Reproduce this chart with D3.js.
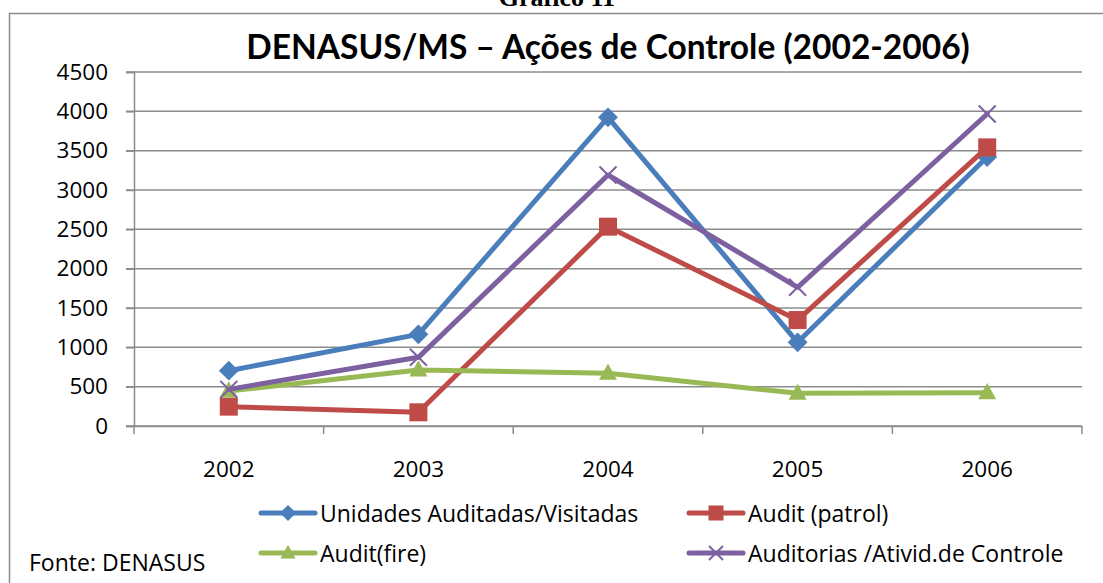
<!DOCTYPE html>
<html>
<head>
  <meta charset="utf-8">
  <script src="https://d3js.org/d3.v7.min.js"></script>
  <style>
    body { margin: 0; background: #fff; }
    svg { display: block; }
    text { font-family: "Open Sans", "Liberation Sans", sans-serif; fill: #000; }
  </style>
</head>
<body>
<script>
  "use strict";

  // chart data
  var years = ["2002", "2003", "2004", "2005", "2006"];
  var yTicks = [0, 500, 1000, 1500, 2000, 2500, 3000, 3500, 4000, 4500];

  var unidades   = [703, 1165, 3924, 1064, 3420];
  var auditPatrol = [246, 174, 2534, 1347, 3542];
  var auditFire  = [445, 712, 670, 415, 424];
  var auditorias = [466, 873, 3191, 1763, 3966];

  var series = [
    {name: "Unidades Auditadas/Visitadas", values: unidades, color: "#4A7EBB", marker: "diamond"},
    {name: "Audit (patrol)", values: auditPatrol, color: "#BE4B48", marker: "square"},
    {name: "Audit(fire)", values: auditFire, color: "#98B954", marker: "triangle"},
    {name: "Auditorias /Ativid.de Controle", values: auditorias, color: "#7D60A0", marker: "cross"}
  ];

  var W = 1103, H = 583;
  var svg = d3.select("body").append("svg")
    .attr("width", W)
    .attr("height", H);

  // outer frame
  svg.append("rect")
    .attr("x", 9.5).attr("y", 13.5)
    .attr("width", W + 20).attr("height", H + 20)
    .attr("fill", "none")
    .attr("stroke", "#8c8c8c")
    .attr("stroke-width", 1.5);

  // caption above the frame (cut at the top edge, as in the source scan)
  svg.append("text")
    .attr("x", 557).attr("y", 6)
    .attr("text-anchor", "middle")
    .style("font-family", "'Liberation Serif', serif")
    .style("font-weight", "bold")
    .style("font-size", "26px")
    .text("Gráfico 11");

  svg.append("text")
    .attr("x", 608).attr("y", 59)
    .attr("text-anchor", "middle")
    .style("font-family", "Lato, sans-serif")
    .style("font-weight", "bold")
    .style("font-size", "33.5px")
    .text("DENASUS/MS \u2013 Ações de Controle (2002-2006)");

  var pLeft = 134, pRight = 1082, pTop = 72, pBottom = 426;

  var x = d3.scaleBand().domain(years).range([pLeft, pRight]);
  var y = d3.scaleLinear().domain([0, 4500]).range([pBottom, pTop]);

  // gridlines
  svg.append("g").selectAll("line")
    .data(yTicks)
    .enter().append("line")
    .attr("x1", pLeft - 8).attr("x2", pRight)
    .attr("y1", function(d) { return y(d); })
    .attr("y2", function(d) { return y(d); })
    .attr("stroke", "#8c8c8c")
    .attr("stroke-width", 1.5);

  // y axis
  var yAxis = svg.append("g")
    .attr("transform", "translate(" + pLeft + ",0)")
    .call(d3.axisLeft(y).tickValues(yTicks).tickFormat(d3.format("d")).tickSize(8).tickPadding(18));
  yAxis.select(".domain").attr("stroke", "#8c8c8c").attr("stroke-width", 1.5);
  yAxis.selectAll(".tick line").attr("stroke", "#8c8c8c").attr("stroke-width", 1.5);
  yAxis.selectAll("text")
    .style("font-family", "'Open Sans', sans-serif")
    .style("font-size", "22.5px")
    .attr("fill", "#000");

  // x axis
  var xAxis = svg.append("g")
    .attr("transform", "translate(0," + pBottom + ")")
    .call(d3.axisBottom(x).tickSize(0).tickPadding(35));
  xAxis.select(".domain").attr("stroke", "#8c8c8c").attr("stroke-width", 1.5);
  xAxis.selectAll("text")
    .style("font-family", "'Open Sans', sans-serif")
    .style("font-size", "22.5px")
    .attr("fill", "#000");

  var bounds = [pLeft].concat(years.map(function(d) { return x(d) + x.bandwidth(); }));
  xAxis.selectAll(".sep")
    .data(bounds)
    .enter().append("line")
    .attr("x1", function(d) { return d; })
    .attr("x2", function(d) { return d; })
    .attr("y1", 0).attr("y2", 8)
    .attr("stroke", "#8c8c8c")
    .attr("stroke-width", 1.5);

  function drawMarker(g, type, color, cx, cy, s) {
    if (type == "diamond") {
      var r = s * 0.62;
      g.append("path")
        .attr("d", "M" + cx + "," + (cy - r) + "L" + (cx + r) + "," + cy + "L" + cx + "," + (cy + r) + "L" + (cx - r) + "," + cy + "Z")
        .attr("fill", color);
    } else if (type == "square") {
      g.append("rect")
        .attr("x", cx - s / 2).attr("y", cy - s / 2)
        .attr("width", s).attr("height", s)
        .attr("fill", color);
    } else if (type == "triangle") {
      var h = s * 0.9;
      g.append("path")
        .attr("d", "M" + cx + "," + (cy - h * 0.6) + "L" + (cx + s / 2) + "," + (cy + h * 0.4) + "L" + (cx - s / 2) + "," + (cy + h * 0.4) + "Z")
        .attr("fill", color);
    } else {
      var c = s / 2;
      g.append("path")
        .attr("d", "M" + (cx - c) + "," + (cy - c) + "L" + (cx + c) + "," + (cy + c) + "M" + (cx + c) + "," + (cy - c) + "L" + (cx - c) + "," + (cy + c))
        .attr("stroke", color)
        .attr("stroke-width", 2);
    }
  }

  var line = d3.line()
    .x(function(d, i) { return x(years[i]) + x.bandwidth() / 2; })
    .y(function(d) { return y(d); });

  var sizes = {diamond: 16, square: 18, triangle: 18, cross: 17};

  series.forEach(function(s) {
    var g = svg.append("g");
    g.append("path")
      .attr("d", line(s.values))
      .attr("fill", "none")
      .attr("stroke", s.color)
      .attr("stroke-width", 5)
      .attr("stroke-linejoin", "round")
      .attr("stroke-linecap", "round");
    s.values.forEach(function(v, i) {
      drawMarker(g, s.marker, s.color, x(years[i]) + x.bandwidth() / 2, y(v), sizes[s.marker]);
    });
  });

  // legend
  var legendPos = [
    {x: 261, y: 513}, {x: 689, y: 513},
    {x: 261, y: 553}, {x: 689, y: 553}
  ];
  series.forEach(function(s, i) {
    var p = legendPos[i];
    var g = svg.append("g");
    g.append("line")
      .attr("x1", p.x).attr("x2", p.x + 54)
      .attr("y1", p.y).attr("y2", p.y)
      .attr("stroke", s.color)
      .attr("stroke-width", 5)
      .attr("stroke-linecap", "round");
    drawMarker(g, s.marker, s.color, p.x + 27, p.y, sizes[s.marker] - 3);
    g.append("text")
      .attr("x", p.x + 59).attr("y", p.y + 9)
      .style("font-size", "23px")
      .text(s.name);
  });

  svg.append("text")
    .attr("x", 29).attr("y", 571)
    .style("font-size", "23px")
    .text("Fonte: DENASUS");
</script>
</body>
</html>
